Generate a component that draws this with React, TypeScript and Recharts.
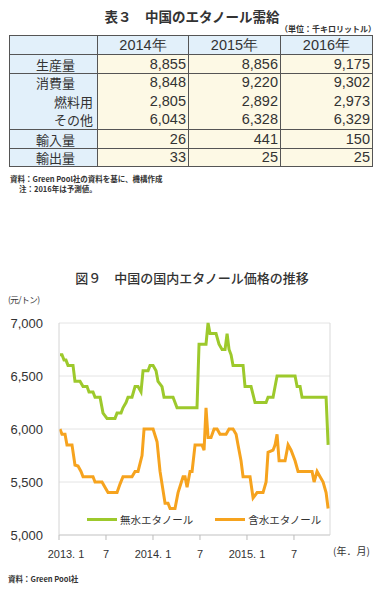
import React from "react";
import { LineChart, Line, XAxis, YAxis, CartesianGrid, Legend, ReferenceLine } from "recharts";

// ---- Table 3 data ----
const years = ["2014年", "2015年", "2016年"];
const rowLabels = ["生産量", "消費量", "燃料用", "その他", "輸入量", "輸出量"];
const production = ["8,855", "8,856", "9,175"];
const consumption = ["8,848", "9,220", "9,302"];
const fuelUse = ["2,805", "2,892", "2,973"];
const otherUse = ["6,043", "6,328", "6,329"];
const imports = ["26", "441", "150"];
const exportsRow = ["33", "25", "25"];

// ---- Figure 9 data (x = months since 2013.1) ----
const anhydrousMonths = [0.13, 0.38, 0.64, 0.89, 1.15, 1.79, 2.04, 2.68, 3.07, 3.58, 3.83, 4.34, 4.6, 5.24, 5.62, 6.13, 7.15, 7.41, 7.92, 8.17, 8.56, 8.81, 9.32, 9.71, 10.09, 10.47, 10.73, 11.37, 11.62, 12.01, 12.39, 12.64, 13.15, 13.41, 14.56, 15.07, 17.62, 17.88, 18.77, 19.03, 19.28, 20.05, 20.43, 20.82, 21.2, 21.46, 21.71, 21.97, 22.22, 23.5, 23.75, 24.52, 25.03, 26.44, 26.69, 27.33, 27.84, 30.14, 30.4, 30.78, 31.03, 34.1, 34.36];
const anhydrousPrice = [6700, 6700, 6650, 6650, 6600, 6600, 6450, 6450, 6400, 6400, 6350, 6350, 6300, 6300, 6150, 6100, 6100, 6150, 6150, 6200, 6250, 6300, 6300, 6400, 6400, 6350, 6550, 6550, 6600, 6600, 6550, 6450, 6400, 6300, 6300, 6200, 6200, 6800, 6800, 7000, 6900, 6900, 6800, 6750, 6750, 6900, 6750, 6700, 6600, 6600, 6400, 6400, 6250, 6250, 6300, 6300, 6500, 6500, 6400, 6400, 6300, 6300, 5850];

const hydrousMonths = [0.13, 0.38, 0.77, 1.02, 1.66, 2.04, 2.43, 2.81, 3.07, 4.34, 4.6, 5.49, 5.87, 6.26, 7.41, 7.79, 8.17, 9.32, 9.71, 10.09, 10.6, 10.86, 12.01, 12.52, 12.9, 13.54, 13.92, 14.18, 14.81, 15.2, 15.84, 16.09, 16.35, 16.73, 16.99, 17.37, 18.26, 18.52, 18.77, 19.03, 19.41, 19.8, 20.18, 20.56, 21.33, 21.71, 22.22, 22.61, 22.86, 23.24, 23.5, 24.39, 24.78, 25.29, 26.05, 26.44, 26.69, 27.33, 27.59, 27.84, 28.1, 28.86, 29.25, 29.63, 30.14, 30.52, 32.31, 32.57, 32.95, 33.33, 33.72, 34.1, 34.36];
const hydrousPrice = [6000, 5950, 5950, 5850, 5850, 5660, 5650, 5600, 5550, 5550, 5500, 5500, 5450, 5400, 5400, 5480, 5550, 5550, 5600, 5600, 5750, 6000, 6000, 5880, 5600, 5300, 5300, 5250, 5250, 5400, 5550, 5550, 5450, 5600, 5600, 5850, 5850, 5800, 6200, 5920, 5920, 6000, 6000, 5950, 5950, 6000, 6000, 5950, 5850, 5700, 5550, 5550, 5350, 5400, 5400, 5500, 5780, 5800, 5850, 5950, 5700, 5700, 5850, 5800, 5700, 5600, 5600, 5500, 5600, 5550, 5500, 5400, 5250];

const xTicks = [0, 6, 12, 18, 24, 30];
const xTickLabels = ["2013. 1", "7", "2014. 1", "7", "2015. 1", "7"];
const yTicks = [5000, 5500, 6000, 6500, 7000];
const seriesNames = ["無水エタノール", "含水エタノール"];

const GREEN = "#9dc92c";
const ORANGE = "#f6a31e";
const JP = '"Noto Sans CJK JP", "Noto Sans", sans-serif';
const NUM = '"Liberation Sans", Arial, sans-serif';

const anhydrousData = anhydrousMonths.map((m, i) => ({ m, v: anhydrousPrice[i] }));
const hydrousData = hydrousMonths.map((m, i) => ({ m, v: hydrousPrice[i] }));

const BORDER = "1.5px solid #555";
const BLUE = "#e2f0fa";
const CREAM = "#fdf9e5";

function Table3() {
  const colW = [88, 91, 92, 92];
  const cellBase: React.CSSProperties = { padding: 0, fontFamily: NUM, fontSize: 14.5, lineHeight: "15px", color: "#333", boxSizing: "border-box" };
  const numCell = (v: string, key: number, top: boolean, h: number) => (
    <td key={key} style={{ ...cellBase, background: CREAM, textAlign: "right", paddingRight: 2, borderLeft: BORDER, borderRight: BORDER, borderTop: top ? BORDER : "none", height: h }}>{v}</td>
  );
  const labelCell = (t: string, indent: number, top: boolean, h: number) => (
    <td style={{ ...cellBase, fontFamily: JP, fontSize: 13, background: BLUE, paddingLeft: indent, borderLeft: BORDER, borderTop: top ? BORDER : "none", height: h }}>{t}</td>
  );
  const rows: { label: string; indent: number; vals: string[]; top: boolean; h: number }[] = [
    { label: rowLabels[0], indent: 26, vals: production, top: true, h: 19 },
    { label: rowLabels[1], indent: 26, vals: consumption, top: true, h: 18 },
    { label: rowLabels[2], indent: 44, vals: fuelUse, top: false, h: 19 },
    { label: rowLabels[3], indent: 44, vals: otherUse, top: false, h: 19 },
    { label: rowLabels[4], indent: 26, vals: imports, top: true, h: 19 },
    { label: rowLabels[5], indent: 26, vals: exportsRow, top: true, h: 18 },
  ];
  return (
    <table style={{ position: "absolute", left: 9, top: 35, borderCollapse: "collapse", tableLayout: "fixed", width: 363, borderBottom: BORDER }}>
      <colgroup>
        {colW.map((w, i) => <col key={i} style={{ width: w }} />)}
      </colgroup>
      <tbody>
        <tr>
          <td style={{ ...cellBase, background: BLUE, border: BORDER, height: 19 }}></td>
          {years.map((y, i) => (
            <td key={i} style={{ ...cellBase, background: BLUE, border: BORDER, textAlign: "center", height: 19 }}>{y}</td>
          ))}
        </tr>
        {rows.map((r, ri) => (
          <tr key={ri}>
            {labelCell(r.label, r.indent, r.top, r.h)}
            {r.vals.map((v, i) => numCell(v, i, r.top, r.h))}
          </tr>
        ))}
      </tbody>
    </table>
  );
}

function XTick(props: any) {
  const { x, y, payload, index } = props;
  const label = xTickLabels[xTicks.indexOf(payload.value)] ?? "";
  const dx = index === 0 ? 7 : 0;
  return (
    <text x={x + dx} y={y} dy="0.71em" textAnchor="middle" fontFamily={NUM} fontSize={11} fill="#333">{label}</text>
  );
}

function LegendContent() {
  const item = (color: string, name: string, gap: number) => (
    <div style={{ display: "flex", alignItems: "center", marginRight: gap }}>
      <div style={{ width: 30, height: 3, background: color, marginRight: 3 }} />
      <span style={{ fontFamily: JP, fontSize: 10.5, color: "#333", whiteSpace: "nowrap" }}>{name}</span>
    </div>
  );
  return (
    <div style={{ display: "flex", alignItems: "center" }}>
      {item(GREEN, seriesNames[0], 22)}
      {item(ORANGE, seriesNames[1], 0)}
    </div>
  );
}

export default function App() {
  return (
    <div style={{ position: "absolute", left: 0, top: 0, width: 380, height: 592, background: "#fff", color: "#333" }}>
      <div style={{ position: "absolute", left: 0, width: 380, top: 7, textAlign: "center", fontFamily: JP, fontSize: 13.5, fontWeight: 700, lineHeight: "18px", paddingLeft: 2 }}>表３　中国のエタノール需給</div>
      <div style={{ position: "absolute", left: 280, top: 24, fontFamily: JP, fontSize: 8, fontWeight: 700, lineHeight: "10px", whiteSpace: "nowrap" }}>（単位：千キロリットル）</div>
      <Table3 />
      <div style={{ position: "absolute", left: 10, top: 174, fontFamily: JP, fontSize: 7.5, fontWeight: 700, lineHeight: "9px", whiteSpace: "nowrap" }}>資料：Green Pool社の資料を基に、機構作成</div>
      <div style={{ position: "absolute", left: 19, top: 184, fontFamily: JP, fontSize: 7.5, fontWeight: 700, lineHeight: "9px", whiteSpace: "nowrap" }}>注：2016年は予測値。</div>

      <div style={{ position: "absolute", left: 0, width: 380, top: 269, textAlign: "center", fontFamily: JP, fontSize: 13, fontWeight: 500, lineHeight: "18px", paddingLeft: 2 }}>図９　中国の国内エタノール価格の推移</div>
      <div style={{ position: "absolute", left: 8, top: 293, fontFamily: JP, fontSize: 8.5, lineHeight: "12px", whiteSpace: "nowrap", letterSpacing: -0.5 }}>(元/トン)</div>

      <div style={{ position: "absolute", left: 0, top: 300 }}>
        <LineChart width={380} height={260} margin={{ top: 23, right: 50, bottom: 0, left: 0 }}>
          <CartesianGrid horizontal vertical={false} stroke="#e4e4e4" />
          <XAxis
            dataKey="m"
            type="number"
            domain={[0, 34.6]}
            allowDataOverflow
            ticks={xTicks}
            interval={0}
            height={25}
            stroke="#cfcfcf"
            tickLine={{ stroke: "#bbb" }}
            tickSize={5}
            tickMargin={10}
            tick={<XTick />}
          />
          <YAxis
            type="number"
            domain={[5000, 7000]}
            ticks={yTicks}
            width={59}
            stroke="#d4d4d4"
            tickLine={false}
            tickSize={0}
            tickMargin={16}
            tick={{ fontFamily: NUM, fontSize: 13, fill: "#333" }}
            tickFormatter={(v: number) => v.toLocaleString("en-US")}
          />
          <ReferenceLine x={34.6} stroke="#d9d9d9" />
          <Line data={anhydrousData} dataKey="v" name={seriesNames[0]} stroke={GREEN} strokeWidth={3} dot={false} isAnimationActive={false} type="linear" />
          <Line data={hydrousData} dataKey="v" name={seriesNames[1]} stroke={ORANGE} strokeWidth={3} dot={false} isAnimationActive={false} type="linear" />
          <Legend layout="horizontal" verticalAlign="middle" align="center" content={<LegendContent />} wrapperStyle={{ position: "absolute", top: 212, left: 87, width: "auto" }} />
        </LineChart>
      </div>

      <div style={{ position: "absolute", left: 333, top: 544, fontFamily: JP, fontSize: 10, lineHeight: "14px", whiteSpace: "nowrap" }}>(年．月)</div>
      <div style={{ position: "absolute", left: 8, top: 574, fontFamily: JP, fontSize: 7.5, fontWeight: 700, lineHeight: "10px", whiteSpace: "nowrap" }}>資料：Green Pool社</div>
    </div>
  );
}
